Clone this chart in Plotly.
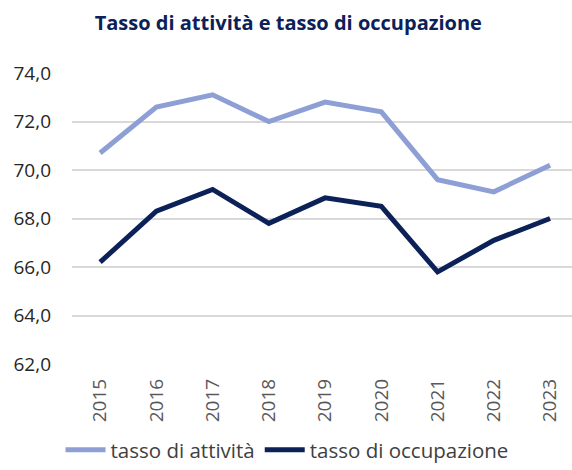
import plotly.graph_objects as go

anni = ['2015', '2016', '2017', '2018', '2019', '2020', '2021', '2022', '2023']
tasso_attivita = [70.7, 72.6, 73.1, 72.0, 72.8, 72.4, 69.6, 69.1, 70.2]
tasso_occupazione = [66.2, 68.3, 69.2, 67.8, 68.85, 68.5, 65.8, 67.1, 68.0]

fig = go.Figure()
fig.add_trace(go.Scatter(x=anni, y=tasso_attivita, mode='lines', name='tasso di attività',
                         line=dict(color='#8E9FD6', width=5)))
fig.add_trace(go.Scatter(x=anni, y=tasso_occupazione, mode='lines', name='tasso di occupazione',
                         line=dict(color='#0B2157', width=5)))

fig.update_layout(
    width=572, height=470,
    paper_bgcolor='white', plot_bgcolor='white',
    margin=dict(l=72, r=0, t=73, b=106, autoexpand=False),
    separators=',.',
    font=dict(family='Open Sans, Noto Sans, sans-serif', color='#262626', size=18),
    title=dict(text='<b>Tasso di attività e tasso di occupazione</b>', x=0.504, xanchor='center',
               xref='container', yref='container', y=0.952, yanchor='middle',
               font=dict(size=20, color='#0B2157')),
    legend=dict(orientation='h', x=0.43, xanchor='center', yref='container', y=-0.045,
                yanchor='bottom', font=dict(size=20.5, color='#404040'), itemwidth=40,
                tracegroupgap=0),
    xaxis=dict(type='category', range=[-0.5, 8.39], tickangle=-90, showgrid=False,
               showline=False, ticks='', tickfont=dict(size=19, color='#595959'),
               ticklabelstandoff=10, automargin=False),
    yaxis=dict(range=[62, 74], dtick=2, tickformat='.1f', showgrid=True, gridcolor='#D9D9D9',
               gridwidth=1.5, zeroline=False, showline=False, ticks='', ticklabelstandoff=20,
               tickfont=dict(size=19, color='#262626'), automargin=False),
)

fig.write_html('out.html', config={'displayModeBar': False},
               post_script="document.body.style.margin='0';document.body.style.overflow='hidden';"
                           "document.documentElement.style.overflow='hidden';")
